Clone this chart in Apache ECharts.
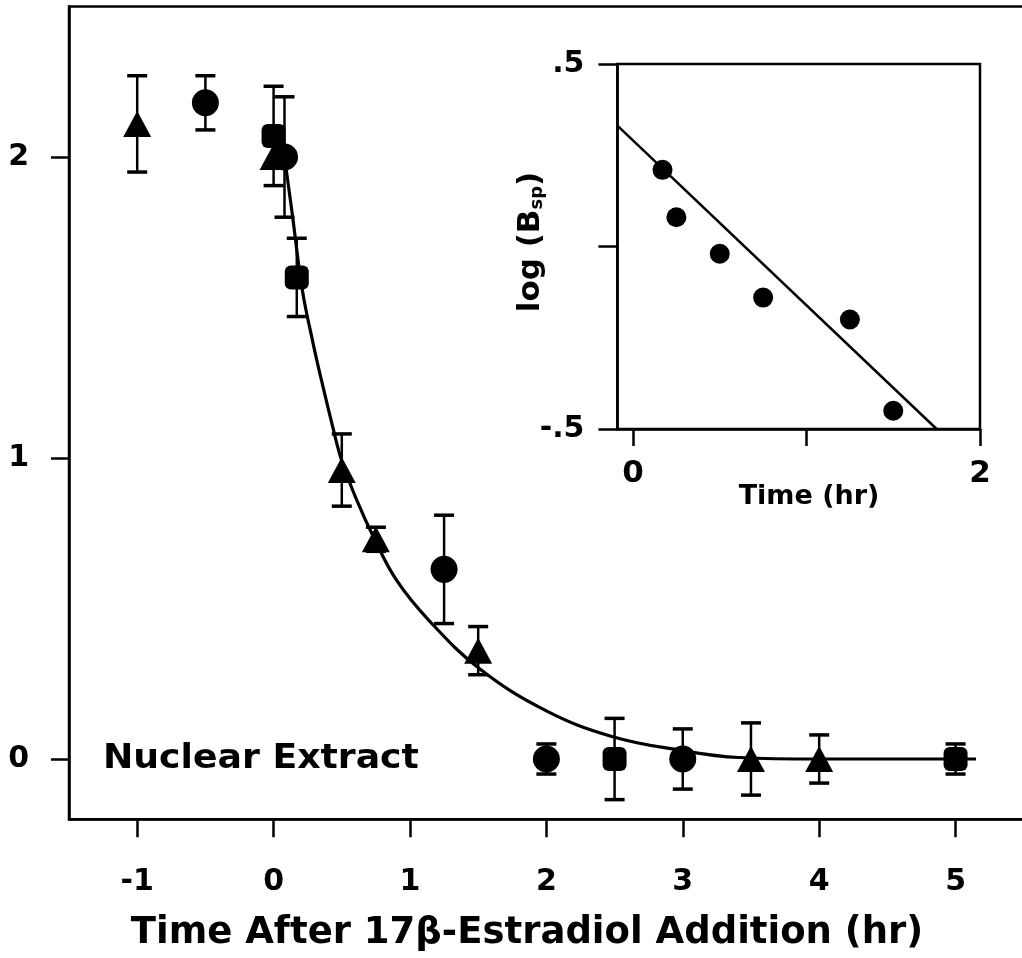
<!DOCTYPE html>
<html>
<head>
<meta charset="utf-8">
<script src="https://cdn.jsdelivr.net/npm/echarts@6/dist/echarts.min.js"></script>
<style>
html,body{margin:0;padding:0;background:#fff;}
#chart{width:1022px;height:958px;}
</style>
</head>
<body>
<div id="chart"></div>
<script>
// ---- Main panel data ----
const circleX   = [-0.5, 0.08, 1.25, 2.0, 3.0];
const circleY   = [2.18, 2.00, 0.63, 0.00, 0.00];
const circleErr = [0.09, 0.20, 0.18, 0.05, 0.10];

const squareX   = [0.0, 0.17, 2.5, 5.0];
const squareY   = [2.07, 1.60, 0.00, 0.00];
const squareErr = [0.165, 0.13, 0.135, 0.05];

const triangleX   = [-1.0, 0.0, 0.5, 0.75, 1.5, 3.5, 4.0];
const triangleY   = [2.11, 2.00, 0.96, 0.73, 0.36, 0.00, 0.00];
const triangleErr = [0.16, 0.0, 0.12, 0.04, 0.08, 0.12, 0.08];

// fitted decay curve
const curveX = [0.08, 0.14, 0.21, 0.29, 0.35, 0.43, 0.50, 0.61, 0.73, 0.90, 1.14, 1.51, 2.00, 2.48, 2.97, 3.41, 4.00, 4.50, 5.15];
const curveY = [2.00, 1.80, 1.56, 1.38, 1.26, 1.11, 0.99, 0.86, 0.74, 0.595, 0.46, 0.30, 0.16, 0.075, 0.03, 0.005, 0.0, 0.0, 0.0];

const mainXTicks = [-1, 0, 1, 2, 3, 4, 5];
const mainYTicks = [0, 1, 2];

// ---- Inset data ----
const insetX = [0.17, 0.25, 0.50, 0.75, 1.25, 1.50];
const insetY = [0.21, 0.08, -0.02, -0.14, -0.20, -0.45];
const fitX = [-0.09, 1.75];
const fitY = [0.331, -0.50];

const insetXTicks  = [0, 1, 2];
const insetXLabels = ['0', '', '2'];
const insetYTicks  = [-0.5, 0, 0.5];
const insetYLabels = ['-.5', '', '.5'];

const titleX = 'Time After 17\u03B2-Estradiol Addition (hr)';
const annot = 'Nuclear Extract';
const insetTitleX = 'Time (hr)';

// ---- build ----
function zip(xs, ys) { return xs.map((x, i) => [x, ys[i]]); }
const errData = [];
[[circleX, circleY, circleErr], [squareX, squareY, squareErr], [triangleX, triangleY, triangleErr]].forEach(([xs, ys, es]) => {
  xs.forEach((x, i) => { if (es[i] > 0) errData.push([x, ys[i] - es[i], ys[i] + es[i]]); });
});

const NUM_FONT = 'DejaVu Sans';
const WORD_FONT = 'DejaVu Sans';
const BLACK = '#000';

function labelFor(ticks, labels) {
  return v => { const i = ticks.findIndex(t => Math.abs(t - v) < 1e-9); return i >= 0 ? labels[i] : ''; };
}

const chart = echarts.init(document.getElementById('chart'), null, { renderer: 'canvas' });
chart.setOption({
  animation: false,
  backgroundColor: '#fff',
  grid: [
    { left: 69, right: -15.4, top: 6.5, bottom: 138.8, show: true, borderColor: BLACK, borderWidth: 2.5,
      backgroundColor: 'transparent', containLabel: false, outerBoundsMode: 'none' },
    { left: 617.4, right: 42, top: 64, bottom: 529, show: true, borderColor: BLACK, borderWidth: 2.5,
      backgroundColor: '#fff', containLabel: false, outerBoundsMode: 'none' }
  ],
  xAxis: [
    {
      type: 'value', gridIndex: 0, min: -1.5, max: 5.6,
      axisLine: { show: true, onZero: false, lineStyle: { color: BLACK, width: 2.5 } },
      axisTick: { show: true, inside: false, length: 18, lineStyle: { color: BLACK, width: 2.5 }, customValues: mainXTicks },
      axisLabel: { show: true, customValues: mainXTicks, margin: 48, fontSize: 30, fontWeight: 'bold', fontFamily: NUM_FONT, color: BLACK,
        formatter: v => String(v) },
      splitLine: { show: false }
    },
    {
      type: 'value', gridIndex: 1, min: -0.09, max: 2,
      axisLine: { show: true, onZero: false, lineStyle: { color: BLACK, width: 2.5 } },
      axisTick: { show: true, inside: false, length: 17, lineStyle: { color: BLACK, width: 2.5 }, customValues: insetXTicks },
      axisLabel: { show: true, customValues: insetXTicks, margin: 29, fontSize: 31, fontWeight: 'bold', fontFamily: NUM_FONT, color: BLACK,
        formatter: labelFor(insetXTicks, insetXLabels) },
      splitLine: { show: false }
    }
  ],
  yAxis: [
    {
      type: 'value', gridIndex: 0, min: -0.2, max: 2.5,
      axisLine: { show: true, onZero: false, lineStyle: { color: BLACK, width: 2.5 } },
      axisTick: { show: true, inside: false, length: 18, lineStyle: { color: BLACK, width: 2.5 }, customValues: mainYTicks },
      axisLabel: { show: true, customValues: mainYTicks, margin: 40, fontSize: 30, fontWeight: 'bold', fontFamily: NUM_FONT, color: BLACK,
        formatter: v => String(v) },
      splitLine: { show: false }
    },
    {
      type: 'value', gridIndex: 1, min: -0.5, max: 0.5,
      axisLine: { show: true, onZero: false, lineStyle: { color: BLACK, width: 2.5 } },
      axisTick: { show: true, inside: false, length: 19, lineStyle: { color: BLACK, width: 2.5 }, customValues: insetYTicks },
      axisLabel: { show: true, customValues: insetYTicks, margin: 33, fontSize: 30, fontWeight: 'bold', fontFamily: NUM_FONT, color: BLACK,
        formatter: labelFor(insetYTicks, insetYLabels) },
      splitLine: { show: false }
    }
  ],
  series: [
    {
      type: 'custom', xAxisIndex: 0, yAxisIndex: 0, z: 2,
      data: errData,
      encode: { x: 0, y: [1, 2] },
      renderItem: function (params, api) {
        const x = api.value(0), lo = api.value(1), hi = api.value(2);
        const a = api.coord([x, lo]), b = api.coord([x, hi]);
        const hw = 10;
        return { type: 'group', children: [
          { type: 'line', shape: { x1: a[0], y1: a[1], x2: b[0], y2: b[1] }, style: { stroke: BLACK, lineWidth: 2.5 } },
          { type: 'line', shape: { x1: a[0] - hw, y1: a[1], x2: a[0] + hw, y2: a[1] }, style: { stroke: BLACK, lineWidth: 3.5 } },
          { type: 'line', shape: { x1: b[0] - hw, y1: b[1], x2: b[0] + hw, y2: b[1] }, style: { stroke: BLACK, lineWidth: 3.5 } }
        ] };
      }
    },
    {
      type: 'line', xAxisIndex: 0, yAxisIndex: 0, z: 3,
      data: zip(curveX, curveY), smooth: 0.4, showSymbol: false, symbol: 'none',
      lineStyle: { color: BLACK, width: 3.2, opacity: 1 }
    },
    {
      type: 'scatter', xAxisIndex: 0, yAxisIndex: 0, z: 4,
      data: zip(circleX, circleY), symbol: 'circle', symbolSize: 27,
      itemStyle: { color: BLACK, opacity: 1 }
    },
    {
      type: 'scatter', xAxisIndex: 0, yAxisIndex: 0, z: 4,
      data: zip(squareX, squareY), symbol: 'roundRect', symbolSize: 24,
      itemStyle: { color: BLACK, opacity: 1 }
    },
    {
      type: 'scatter', xAxisIndex: 0, yAxisIndex: 0, z: 4,
      data: zip(triangleX, triangleY), symbol: 'triangle', symbolSize: [28, 26],
      itemStyle: { color: BLACK, opacity: 1 }
    },
    {
      type: 'line', xAxisIndex: 1, yAxisIndex: 1, z: 3,
      data: zip(fitX, fitY), showSymbol: false, symbol: 'none',
      lineStyle: { color: BLACK, width: 2.5, opacity: 1 }
    },
    {
      type: 'scatter', xAxisIndex: 1, yAxisIndex: 1, z: 4,
      data: zip(insetX, insetY), symbol: 'circle', symbolSize: 20,
      itemStyle: { color: BLACK, opacity: 1 }
    }
  ],
  graphic: [
    { type: 'text', x: 103, y: 759, z: 10, scaleX: 1.065,
      style: { text: annot, fill: BLACK, font: 'bold 34px "DejaVu Sans"', align: 'left', verticalAlign: 'middle' } },
    { type: 'text', x: 527, y: 933, z: 10,
      style: { text: titleX, fill: BLACK, font: 'bold 37px "DejaVu Sans"', align: 'center', verticalAlign: 'middle' } },
    { type: 'text', x: 809, y: 497, z: 10,
      style: { text: insetTitleX, fill: BLACK, font: 'bold 27px "DejaVu Sans"', align: 'center', verticalAlign: 'middle' } },
    { type: 'text', x: 531, y: 242, z: 10, rotation: Math.PI / 2,
      style: {
        text: '{b|log (B}{s|sp}{b|)}', fill: BLACK, align: 'center', verticalAlign: 'middle',
        rich: {
          b: { fontSize: 31, fontWeight: 'bold', fontFamily: WORD_FONT, fill: BLACK, lineHeight: 31, verticalAlign: 'top', padding: [0, 0, 5, 0] },
          s: { fontSize: 18, fontWeight: 'bold', fontFamily: WORD_FONT, fill: BLACK, lineHeight: 18, verticalAlign: 'bottom' }
        }
      } }
  ]
});
</script>
</body>
</html>
